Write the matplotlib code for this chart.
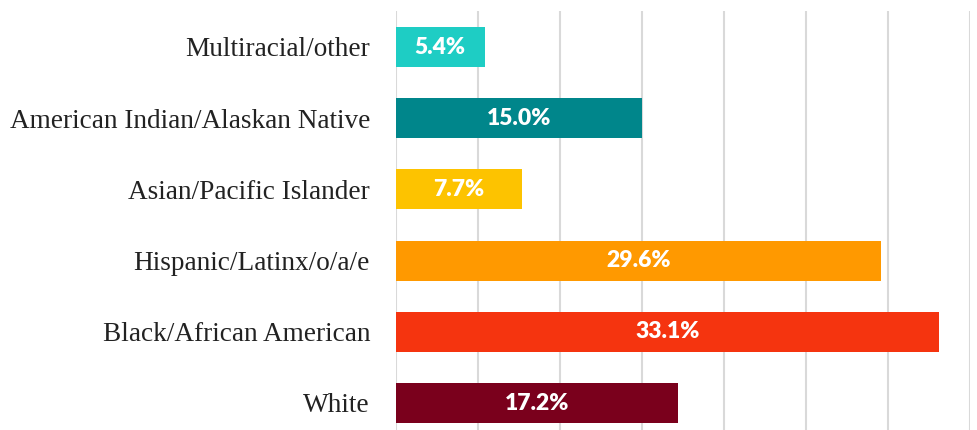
import matplotlib
matplotlib.use("Agg")
import matplotlib.pyplot as plt

categories = ["Multiracial/other", "American Indian/Alaskan Native", "Asian/Pacific Islander",
              "Hispanic/Latinx/o/a/e", "Black/African American", "White"]
values = [5.4, 15.0, 7.7, 29.6, 33.1, 17.2]
colors = ["#1ECDC4", "#00868B", "#FDC300", "#FF9900", "#F5340F", "#7A001C"]
xticks = [0, 5, 10, 15, 20, 25, 30, 35]

fig = plt.figure(figsize=(9.77, 4.30), dpi=100)
ax = fig.add_axes([396/977, 0.0, 574/977, 1 - 11.4/430])

ypos = list(range(len(categories)))
ax.barh(ypos, values, height=40/71.2, color=colors, zorder=3)

ax.set_xlim(0, 35)
ax.set_ylim(5 + 27/71.2, -0.5)
ax.set_xticks(xticks)
ax.set_xticklabels([])
ax.tick_params(axis="x", length=0)
ax.tick_params(axis="y", length=0, pad=18.7)
ax.grid(axis="x", color="#d9d9d9", linewidth=1.5, zorder=0)
ax.set_axisbelow(True)
for s in ax.spines.values():
    s.set_visible(False)

ax.set_yticks(ypos)
ax.set_yticklabels(categories, fontfamily="Liberation Serif", fontsize=19.6, color="#222222")

for y, v in zip(ypos, values):
    ax.text(v / 2, y, f"{v:.1f}%", ha="center", va="center", color="white",
            fontfamily="Lato", fontweight="heavy", fontsize=16.5, zorder=4)

fig.savefig("out.png", dpi=100)
